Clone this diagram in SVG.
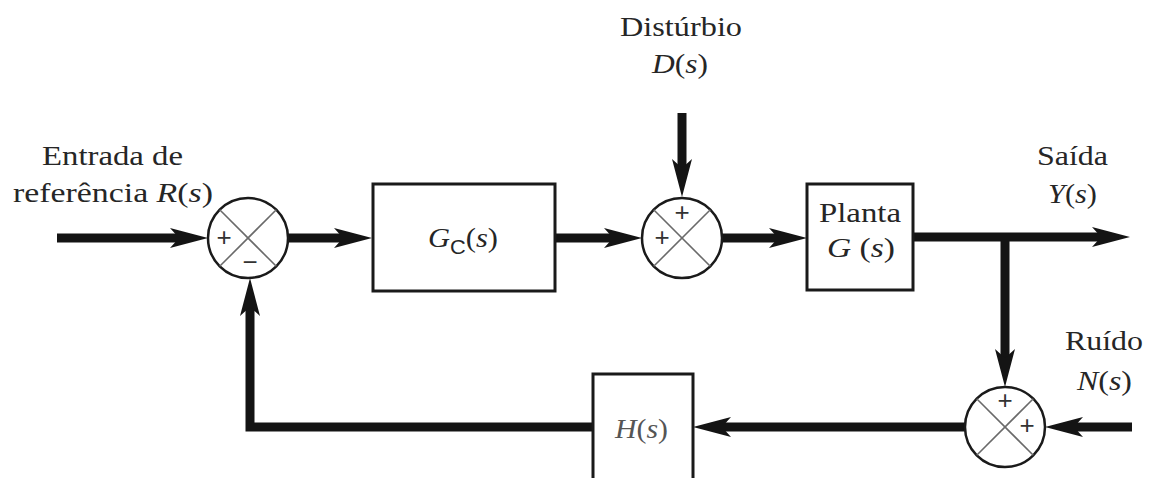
<svg xmlns="http://www.w3.org/2000/svg" width="1153" height="478" viewBox="0 0 1153 478">
  <style>
    .lbl { font-family: "Liberation Serif", "Times New Roman", serif; font-size: 28px; fill: #262626; }
    .it { font-style: italic; }
    .sub { font-family: "Liberation Sans", Arial, sans-serif; font-size: 20px; font-style: normal; }
    .block { fill: #ffffff; stroke: #1a1a1a; stroke-width: 3; }
    .sum { fill: #ffffff; stroke: #1a1a1a; stroke-width: 2.5; }
    .cross { stroke: #6a6a6a; stroke-width: 1.6; }
    .sign { font-family: "Liberation Sans", Arial, sans-serif; font-size: 26px; fill: #333333; text-anchor: middle; }
    .wire { fill: none; stroke: #141414; stroke-width: 9; stroke-linejoin: miter; marker-end: url(#head); }
  </style>
  <defs>
    <marker id="head" markerUnits="userSpaceOnUse" viewBox="0 0 38 20" markerWidth="38" markerHeight="20" refX="18" refY="10" orient="auto">
      <path d="M0,0 L38,10 L0,20 L9,10 Z" fill="#141414"/>
    </marker>
  </defs>

  <rect width="1153" height="478" fill="#ffffff"/>

  <!-- signal lines -->
  <g id="connectors">
    <path class="wire" d="M57,238 H188"/>
    <path class="wire" d="M288,238 H352"/>
    <path class="wire" d="M555,238 H622"/>
    <path class="wire" d="M682,113 V177"/>
    <path class="wire" d="M722,238 H787"/>
    <path class="wire" d="M913,237 H1110"/>
    <path class="wire" d="M1005,237 V367"/>
    <path class="wire" d="M1132,427 H1065"/>
    <path class="wire" d="M965,427 H713"/>
    <path class="wire" d="M593,427 H250 V298"/>
  </g>

  <!-- reference input -->
  <g id="ref-label">
    <text class="lbl" x="42" y="165" textLength="141" lengthAdjust="spacingAndGlyphs">Entrada de</text>
    <text class="lbl" x="13" y="202" textLength="200" lengthAdjust="spacingAndGlyphs">referência <tspan class="it">R</tspan>(<tspan class="it">s</tspan>)</text>
  </g>

  <!-- error summing junction -->
  <g id="sum-error">
    <circle class="sum" cx="248" cy="238" r="40"/>
    <line class="cross" x1="219.7" y1="209.7" x2="276.3" y2="266.3"/>
    <line class="cross" x1="276.3" y1="209.7" x2="219.7" y2="266.3"/>
    <text class="sign" x="224" y="246">+</text>
    <text class="sign" x="250" y="271">−</text>
  </g>

  <!-- controller -->
  <g id="controller">
    <rect class="block" x="373" y="184" width="182" height="107"/>
    <text class="lbl" x="428" y="247" textLength="70" lengthAdjust="spacingAndGlyphs"><tspan class="it">G</tspan><tspan class="sub" dy="7">C</tspan><tspan dy="-7">(</tspan><tspan class="it">s</tspan>)</text>
  </g>

  <!-- disturbance input -->
  <g id="disturbance-label">
    <text class="lbl" x="620" y="36" textLength="122" lengthAdjust="spacingAndGlyphs">Distúrbio</text>
    <text class="lbl" x="652" y="73" textLength="56" lengthAdjust="spacingAndGlyphs"><tspan class="it">D</tspan>(<tspan class="it">s</tspan>)</text>
  </g>

  <!-- disturbance summing junction -->
  <g id="sum-disturbance">
    <circle class="sum" cx="682" cy="238" r="40"/>
    <line class="cross" x1="653.7" y1="209.7" x2="710.3" y2="266.3"/>
    <line class="cross" x1="710.3" y1="209.7" x2="653.7" y2="266.3"/>
    <text class="sign" x="682" y="221">+</text>
    <text class="sign" x="662" y="246">+</text>
  </g>

  <!-- plant -->
  <g id="plant">
    <rect class="block" x="807" y="184" width="106" height="106"/>
    <text class="lbl" x="819" y="222" textLength="82" lengthAdjust="spacingAndGlyphs">Planta</text>
    <text class="lbl" x="827" y="257" textLength="68" lengthAdjust="spacingAndGlyphs"><tspan class="it">G</tspan> (<tspan class="it">s</tspan>)</text>
  </g>

  <!-- output -->
  <g id="output-label">
    <text class="lbl" x="1037" y="165" textLength="71" lengthAdjust="spacingAndGlyphs">Saída</text>
    <text class="lbl" x="1048" y="203" textLength="49" lengthAdjust="spacingAndGlyphs"><tspan class="it">Y</tspan>(<tspan class="it">s</tspan>)</text>
  </g>

  <!-- noise input -->
  <g id="noise-label">
    <text class="lbl" x="1065" y="350" textLength="78" lengthAdjust="spacingAndGlyphs">Ruído</text>
    <text class="lbl" x="1077" y="390" textLength="55" lengthAdjust="spacingAndGlyphs"><tspan class="it">N</tspan>(<tspan class="it">s</tspan>)</text>
  </g>

  <!-- noise summing junction -->
  <g id="sum-noise">
    <circle class="sum" cx="1005" cy="427" r="40"/>
    <line class="cross" x1="976.7" y1="398.7" x2="1033.3" y2="455.3"/>
    <line class="cross" x1="1033.3" y1="398.7" x2="976.7" y2="455.3"/>
    <text class="sign" x="1005" y="409">+</text>
    <text class="sign" x="1027" y="434">+</text>
  </g>

  <!-- sensor -->
  <g id="sensor">
    <rect class="block" x="593" y="374" width="100" height="110"/>
    <text class="lbl" x="615" y="438" textLength="53" lengthAdjust="spacingAndGlyphs" style="fill:#555555"><tspan class="it">H</tspan>(<tspan class="it">s</tspan>)</text>
  </g>
</svg>
